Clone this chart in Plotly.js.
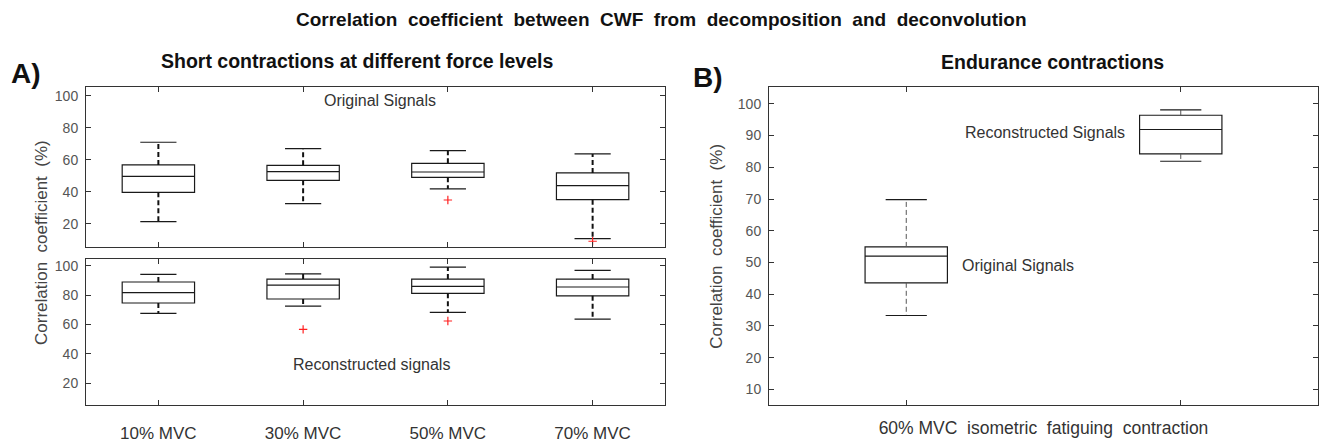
<!DOCTYPE html>
<html>
<head>
<meta charset="utf-8">
<script src="https://cdn.plot.ly/plotly-3.0.1.min.js"></script>
<style>
  html, body { margin: 0; padding: 0; background: #fff; }
  #chart { width: 1324px; height: 444px; }
</style>
</head>
<body>
<div id="chart"></div>
<script>
// ---------- Data ----------
const shortCategories = ['10% MVC', '30% MVC', '50% MVC', '70% MVC'];
const shortPositions = [1, 2, 3, 4];

// Panel A, top: original signals
const origLower  = [21.3, 32.5, 41.7, 10.6];
const origQ1     = [39.6, 47.1, 49.0, 35.0];
const origMedian = [49.6, 52.5, 52.3, 43.8];
const origQ3     = [56.7, 56.5, 57.7, 51.7];
const origUpper  = [70.9, 66.9, 65.6, 63.6];
const origOutX   = [3, 4];
const origOutY   = [34.8, 9.0];

// Panel A, bottom: reconstructed signals
const recLower  = [67.5, 72.5, 68.2, 63.6];
const recQ1     = [74.6, 77.3, 81.2, 79.5];
const recMedian = [81.6, 86.8, 85.9, 85.5];
const recQ3     = [88.9, 90.9, 90.9, 90.9];
const recUpper  = [94.1, 94.5, 99.1, 96.9];
const recOutX   = [2, 3];
const recOutY   = [56.6, 62.3];

// Panel B: endurance contractions (1 = original, 2 = reconstructed)
const endPositions = [1, 2];
const endLower  = [33.3, 81.9];
const endQ1     = [43.6, 84.2];
const endMedian = [52.0, 91.9];
const endQ3     = [54.9, 96.4];
const endUpper  = [69.8, 98.1];

const leftYTicks = [20, 40, 60, 80, 100];
const rightYTicks = [10, 20, 30, 40, 50, 60, 70, 80, 90, 100];

// ---------- Helpers ----------
const BOX_LINE = '#1a1a1a';
const FONT = 'Liberation Sans, Arial, sans-serif';

function boxTrace(x, q1, med, q3, width, xa, ya) {
  return {
    type: 'box', x: x, q1: q1, median: med, q3: q3,
    lowerfence: q1, upperfence: q3,
    boxpoints: false, width: width, whiskerwidth: 0,
    line: { color: BOX_LINE, width: 1.2 },
    fillcolor: 'rgba(0,0,0,0)',
    xaxis: xa, yaxis: ya, hoverinfo: 'skip', showlegend: false
  };
}

function whiskerTraces(x, lower, q1, q3, upper, boxWidth, xa, ya, dashW, dashColor) {
  const wx = [], wy = [], cx = [], cy = [];
  const half = boxWidth / 4;
  for (let i = 0; i < x.length; i++) {
    wx.push(x[i], x[i], null, x[i], x[i], null);
    wy.push(q3[i], upper[i], null, q1[i], lower[i], null);
    cx.push(x[i] - half, x[i] + half, null, x[i] - half, x[i] + half, null);
    cy.push(upper[i], upper[i], null, lower[i], lower[i], null);
  }
  return [
    { type: 'scatter', mode: 'lines', x: wx, y: wy, xaxis: xa, yaxis: ya,
      line: { color: dashColor, width: dashW, dash: '5px,3px' }, hoverinfo: 'skip', showlegend: false },
    { type: 'scatter', mode: 'lines', x: cx, y: cy, xaxis: xa, yaxis: ya,
      line: { color: BOX_LINE, width: 1.2 }, hoverinfo: 'skip', showlegend: false }
  ];
}

function outlierTrace(x, y, xa, ya) {
  return { type: 'scatter', mode: 'markers', x: x, y: y, xaxis: xa, yaxis: ya,
    marker: { symbol: 'cross-thin', size: 6, line: { color: '#ff2020', width: 1.2 } },
    hoverinfo: 'skip', showlegend: false };
}

const data = [
  boxTrace(shortPositions, origQ1, origMedian, origQ3, 0.5, 'x', 'y'),
  ...whiskerTraces(shortPositions, origLower, origQ1, origQ3, origUpper, 0.5, 'x', 'y', 2, '#111'),
  outlierTrace(origOutX, origOutY, 'x', 'y'),
  boxTrace(shortPositions, recQ1, recMedian, recQ3, 0.5, 'x2', 'y2'),
  ...whiskerTraces(shortPositions, recLower, recQ1, recQ3, recUpper, 0.5, 'x2', 'y2', 2, '#111'),
  outlierTrace(recOutX, recOutY, 'x2', 'y2'),
  boxTrace(endPositions, endQ1, endMedian, endQ3, 0.3, 'x3', 'y3'),
  ...whiskerTraces(endPositions, endLower, endQ1, endQ3, endUpper, 0.3, 'x3', 'y3', 1, '#555')
];

// ---------- Layout ----------
const W = 1324, H = 444;
const px = v => v / W;
const py = v => 1 - v / H;

const tickFont = { family: FONT, size: 14, color: '#555' };
const axisCommon = {
  showline: true, linecolor: '#333', linewidth: 1, mirror: 'ticks',
  ticks: 'inside', ticklen: 5, tickcolor: '#333', tickwidth: 1,
  showgrid: false, zeroline: false, fixedrange: true, tickfont: tickFont
};

const layout = {
  width: W, height: H,
  margin: { l: 0, r: 0, t: 0, b: 0 },
  paper_bgcolor: '#fff', plot_bgcolor: '#fff',
  showlegend: false,
  font: { family: FONT, color: '#333' },
  xaxis: Object.assign({}, axisCommon, {
    domain: [px(86), px(665)], anchor: 'y', range: [0.5, 4.5],
    tickmode: 'array', tickvals: shortPositions, showticklabels: false
  }),
  yaxis: Object.assign({}, axisCommon, {
    domain: [py(246.7), py(87.3)], anchor: 'x', range: [5.6, 105.25],
    tickmode: 'array', tickvals: leftYTicks, ticklabelstandoff: 4
  }),
  xaxis2: Object.assign({}, axisCommon, {
    domain: [px(86), px(665)], anchor: 'y2', range: [0.5, 4.5],
    tickmode: 'array', tickvals: shortPositions, ticktext: shortCategories,
    tickfont: { family: FONT, size: 17, color: '#333' },
    ticklabelstandoff: 12
  }),
  yaxis2: Object.assign({}, axisCommon, {
    domain: [py(405.3), py(259)], anchor: 'x2', range: [4.8, 104.6],
    tickmode: 'array', tickvals: leftYTicks, ticklabelstandoff: 4
  }),
  xaxis3: Object.assign({}, axisCommon, {
    domain: [px(769), px(1318)], anchor: 'y3', range: [0.5, 2.5],
    tickmode: 'array', tickvals: endPositions, showticklabels: false,
    title: { text: '60% MVC&nbsp; isometric&nbsp; fatiguing&nbsp; contraction', standoff: 16,
      font: { family: FONT, size: 17.5, color: '#333' } }
  }),
  yaxis3: Object.assign({}, axisCommon, {
    domain: [py(405.3), py(87.3)], anchor: 'x3', range: [5.0, 105.2],
    tickmode: 'array', tickvals: rightYTicks, ticklabelstandoff: 4,
    title: { text: 'Correlation&nbsp; coefficient&nbsp; (%)', standoff: 10,
      font: { family: FONT, size: 17, color: '#444' } }
  }),
  annotations: [
    { text: '<b>Correlation&nbsp; coefficient&nbsp; between&nbsp; CWF&nbsp; from&nbsp; decomposition&nbsp; and&nbsp; deconvolution</b>',
      xref: 'paper', yref: 'paper', x: px(661), y: py(20), xanchor: 'center', yanchor: 'middle',
      showarrow: false, font: { size: 19, color: '#111' } },
    { text: '<b>Short contractions at different force levels</b>',
      xref: 'paper', yref: 'paper', x: px(357), y: py(61), xanchor: 'center', yanchor: 'middle',
      showarrow: false, font: { size: 19.5, color: '#111' } },
    { text: '<b>Endurance contractions</b>',
      xref: 'paper', yref: 'paper', x: px(1052), y: py(62), xanchor: 'center', yanchor: 'middle',
      showarrow: false, font: { size: 19.5, color: '#111' } },
    { text: '<b>A)</b>', xref: 'paper', yref: 'paper', x: px(26), y: py(74),
      xanchor: 'center', yanchor: 'middle', showarrow: false, font: { size: 28, color: '#111' } },
    { text: '<b>B)</b>', xref: 'paper', yref: 'paper', x: px(708), y: py(77),
      xanchor: 'center', yanchor: 'middle', showarrow: false, font: { size: 28, color: '#111' } },
    { text: 'Correlation&nbsp; coefficient&nbsp; (%)', xref: 'paper', yref: 'paper',
      x: px(42), y: py(243), textangle: -90, xanchor: 'center', yanchor: 'middle',
      showarrow: false, font: { size: 17, color: '#444' } },
    { text: 'Original Signals', xref: 'x', yref: 'y', x: 2.53, y: 97,
      xanchor: 'center', yanchor: 'middle', showarrow: false, font: { size: 16, color: '#333' } },
    { text: 'Reconstructed signals', xref: 'x2', yref: 'y2', x: 2.47, y: 32.3,
      xanchor: 'center', yanchor: 'middle', showarrow: false, font: { size: 16, color: '#333' } },
    { text: 'Reconstructed Signals', xref: 'x3', yref: 'y3', x: 1.805, y: 90.9,
      xanchor: 'right', yanchor: 'middle', showarrow: false, font: { size: 16, color: '#333' } },
    { text: 'Original Signals', xref: 'x3', yref: 'y3', x: 1.195, y: 49.1,
      xanchor: 'left', yanchor: 'middle', showarrow: false, font: { size: 16, color: '#333' } }
  ]
};

Plotly.newPlot('chart', data, layout, { staticPlot: true, displayModeBar: false });
</script>
</body>
</html>
